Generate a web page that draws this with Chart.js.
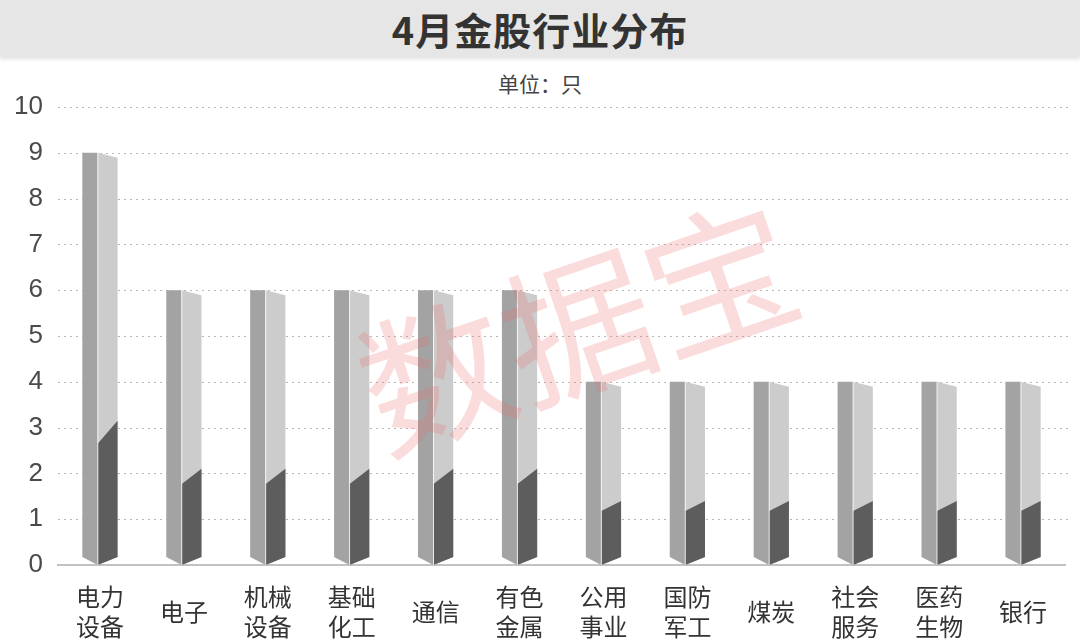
<!DOCTYPE html>
<html>
<head>
<meta charset="utf-8">
<script src="https://cdn.jsdelivr.net/npm/chart.js@4.4.1/dist/chart.umd.min.js"></script>
<style>
  html, body { margin: 0; padding: 0; background: #ffffff; }
  #wrap { position: relative; width: 1080px; height: 640px; overflow: hidden; background: #fff; }
  #titlebar { position: absolute; left: 0; top: 0; width: 1080px; height: 57px; background: #e6e6e6;
    box-shadow: 0 2px 4px rgba(0,0,0,0.12); }
  #title { position: absolute; left: 0; top: 0; width: 1080px; height: 57px; line-height: 57px; text-align: center;
    font-family: "Noto Sans CJK SC", sans-serif; font-weight: bold; font-size: 38px; color: #333; letter-spacing: 1px; }
  #subtitle { position: absolute; left: 0; top: 68px; width: 1080px; text-align: center;
    font-family: "Noto Sans CJK SC", sans-serif; font-size: 21px; color: #444; line-height: 30px; }
  #c { position: absolute; left: 0; top: 0; }
</style>
</head>
<body>
<div id="wrap">
  <div id="titlebar"></div>
  <div id="title">4月金股行业分布</div>
  <div id="subtitle">单位：只</div>
  <canvas id="c" width="1080" height="640"></canvas>
</div>
<script>
// ---- data ----
const categories = [
  ["电力", "设备"], ["电子"], ["机械", "设备"], ["基础", "化工"], ["通信"], ["有色", "金属"],
  ["公用", "事业"], ["国防", "军工"], ["煤炭"], ["社会", "服务"], ["医药", "生物"], ["银行"]
];
const counts = [9, 6, 6, 6, 6, 6, 4, 4, 4, 4, 4, 4];
const yTicks = [0, 1, 2, 3, 4, 5, 6, 7, 8, 9, 10];
const watermarkText = "数据宝";

// ---- dotted gridlines, prism bars, watermark ----
const prismPlugin = {
  id: 'prism',
  beforeDatasetsDraw(chart) {
    const ctx = chart.ctx;
    const ys = chart.scales.y;
    const area = chart.chartArea;
    ctx.save();
    ctx.strokeStyle = '#b8b8b8';
    ctx.lineWidth = 1;
    ctx.setLineDash([2, 4]);
    ys.ticks.forEach(t => {
      if (t.value === 0) return;
      const py = Math.round(ys.getPixelForValue(t.value)) + 0.5;
      ctx.beginPath();
      ctx.moveTo(area.left, py);
      ctx.lineTo(area.right + 6, py);
      ctx.stroke();
    });
    ctx.restore();
  },
  afterDatasetsDraw(chart) {
    const ctx = chart.ctx;
    const meta = chart.getDatasetMeta(0);
    meta.data.forEach(el => {
      const p = el.getProps(['x', 'y', 'base', 'width'], true);
      const L = p.x - p.width / 2, R = p.x + p.width / 2;
      const M = L + p.width * 0.44;
      const top = p.y, base = p.base;
      const h = base - top;
      const bev = 8, slant = 5;
      ctx.save();
      // left face
      ctx.beginPath();
      ctx.moveTo(L, top); ctx.lineTo(M, top); ctx.lineTo(M, base); ctx.lineTo(L, base - bev); ctx.closePath();
      ctx.fillStyle = '#a3a3a3'; ctx.fill();
      // right face (light)
      ctx.beginPath();
      ctx.moveTo(M, top); ctx.lineTo(R, top + slant); ctx.lineTo(R, base - bev); ctx.lineTo(M, base); ctx.closePath();
      ctx.fillStyle = '#cccccc'; ctx.fill();
      // right face (dark lower part)
      ctx.beginPath();
      ctx.moveTo(M, base - h * 0.295); ctx.lineTo(R, base - h * 0.35); ctx.lineTo(R, base - bev); ctx.lineTo(M, base); ctx.closePath();
      ctx.fillStyle = '#5d5d5d'; ctx.fill();
      // highlight edge
      ctx.beginPath();
      ctx.moveTo(M, top); ctx.lineTo(M, base);
      ctx.strokeStyle = 'rgba(255,255,255,0.8)'; ctx.lineWidth = 1; ctx.stroke();
      ctx.restore();
    });
  },
  afterDraw(chart) {
    const ctx = chart.ctx;
    ctx.save();
    ctx.translate(578, 327);
    ctx.rotate(-19 * Math.PI / 180);
    ctx.font = '150px "Noto Sans CJK SC"';
    ctx.textAlign = 'center';
    ctx.textBaseline = 'middle';
    ctx.fillStyle = 'rgba(240, 110, 110, 0.24)';
    ctx.fillText(watermarkText, 0, 0);
    ctx.restore();
  }
};

new Chart(document.getElementById('c'), {
  type: 'bar',
  data: {
    labels: categories,
    datasets: [{
      data: counts,
      backgroundColor: 'rgba(0,0,0,0)',
      borderWidth: 0,
      barPercentage: 0.42,
      categoryPercentage: 1.0
    }]
  },
  options: {
    responsive: false,
    animation: false,
    layout: { padding: { top: 107, right: 15, left: 0, bottom: 0 } },
    plugins: { legend: { display: false }, tooltip: { enabled: false }, title: { display: false } },
    scales: {
      x: {
        grid: { display: false, drawTicks: false },
        border: { display: true, color: '#c2c2c2', width: 2 },
        ticks: {
          color: '#333',
          font: { family: '"Noto Sans CJK SC", sans-serif', size: 24, lineHeight: 1.25 },
          padding: 32,
          maxRotation: 0, autoSkip: false,
          crossAlign: 'center'
        },
        afterFit(scale) { scale.height = 75; }
      },
      y: {
        min: 0, max: 10,
        afterBuildTicks(scale) { scale.ticks = yTicks.map(v => ({ value: v })); },
        grid: { display: false, drawTicks: false },
        border: { display: false },
        ticks: {
          color: '#4a4a4a',
          font: { family: '"Liberation Sans", Arial, sans-serif', size: 26 },
          padding: 15
        },
        afterFit(scale) { scale.width = 58; }
      }
    }
  },
  plugins: [prismPlugin]
});
</script>
</body>
</html>
